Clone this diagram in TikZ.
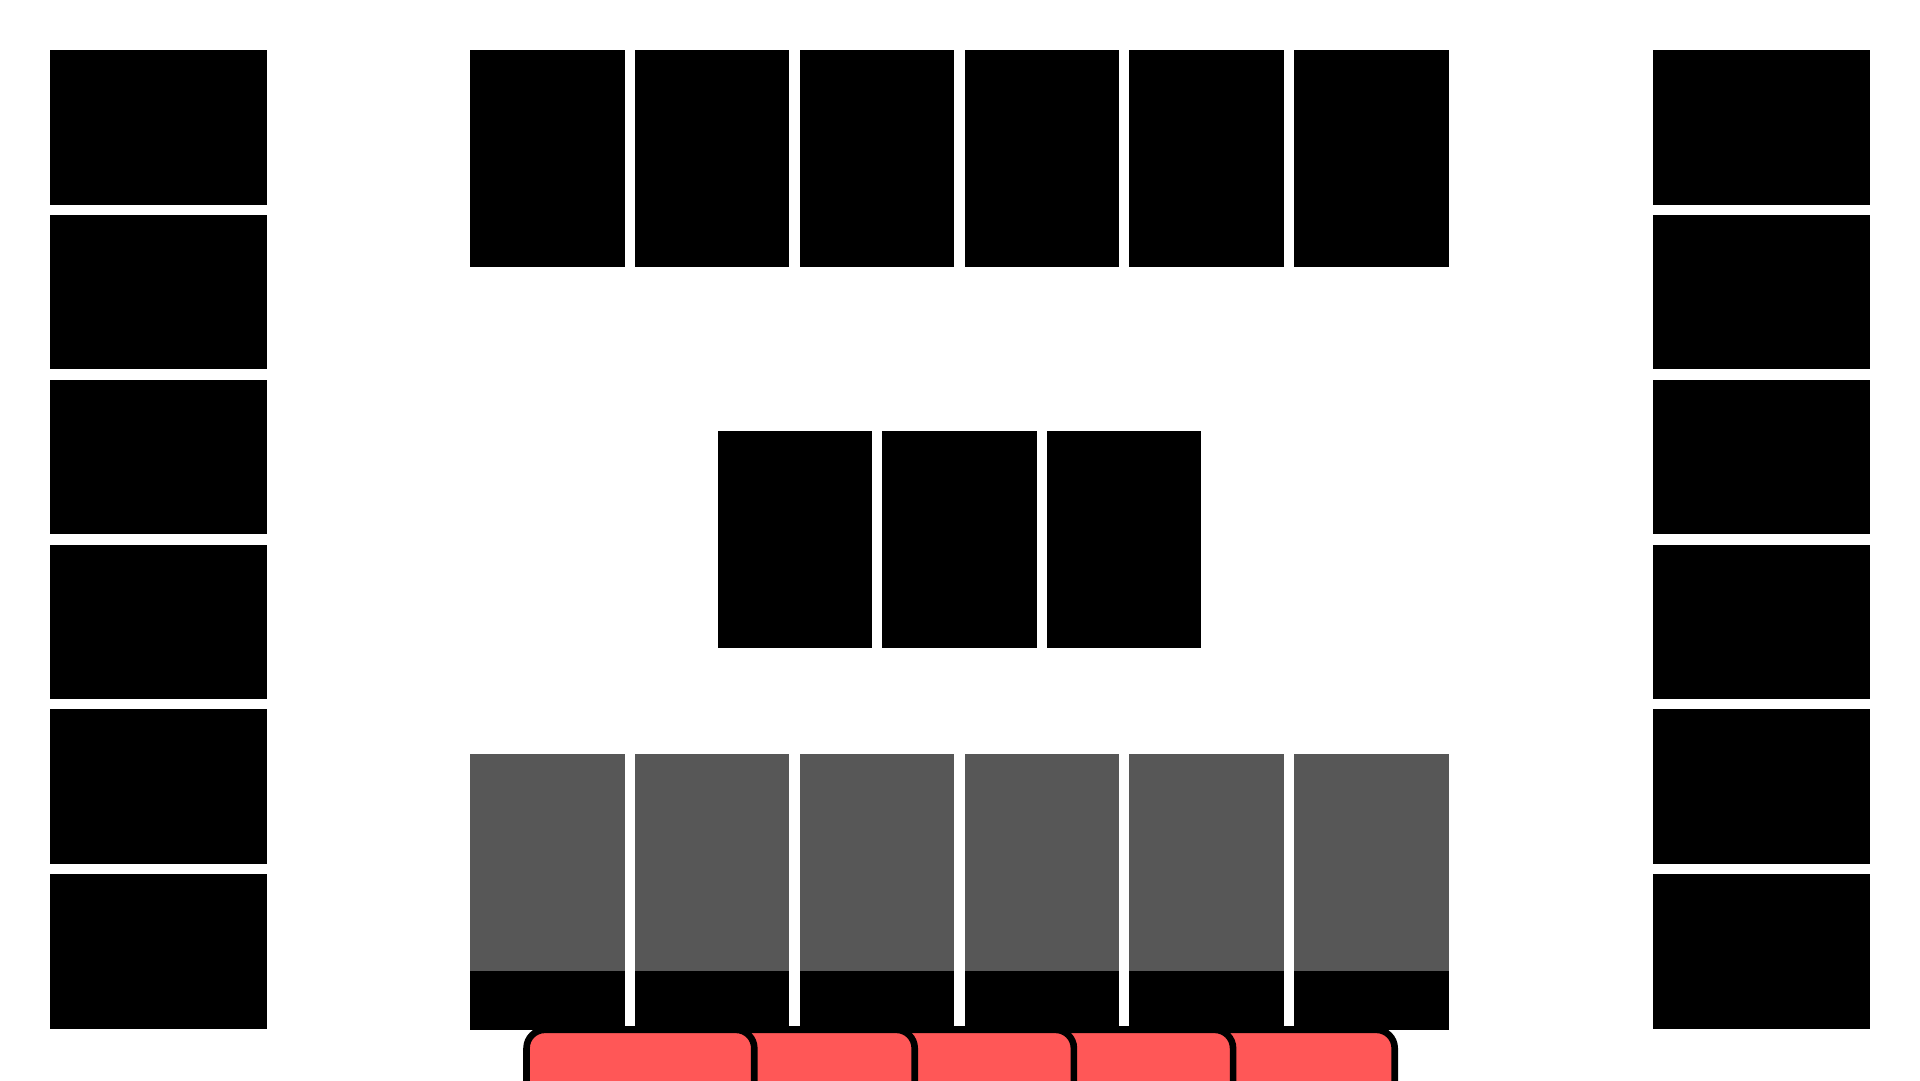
\documentclass[tikz,border=0pt]{standalone}
\usetikzlibrary{positioning}
\definecolor{seatgray}{HTML}{575757}
\definecolor{soldred}{HTML}{FF5757}
\begin{document}
\begin{tikzpicture}[x=1cm,y=-1cm,
  seat/.style={fill=black,inner sep=0pt,outer sep=0pt,minimum width=1.26cm,minimum height=1.77cm},
  sideseat/.style={fill=black,inner sep=0pt,outer sep=0pt,minimum width=1.77cm,minimum height=1.26cm},
  frontseat/.style={seat,fill=seatgray},
  strip/.style={fill=black,inner sep=0pt,outer sep=0pt,minimum width=1.26cm,minimum height=0.45cm},
  booth/.style={draw=black,fill=soldred,line width=0.054cm,rounded corners=0.15cm,inner sep=0pt,minimum height=0.79cm}]
\useasboundingbox (0,0) rectangle (15.68,8.82);
\clip (0,0) rectangle (15.68,8.82);
\node[sideseat] (l1) at (1.295,1.04) {};
\node[sideseat] (l2) at (1.295,2.386) {};
\node[sideseat] (l3) at (1.295,3.732) {};
\node[sideseat] (l4) at (1.295,5.078) {};
\node[sideseat] (l5) at (1.295,6.424) {};
\node[sideseat] (l6) at (1.295,7.77) {};
\node[sideseat] (r1) at (14.385,1.04) {};
\node[sideseat] (r2) at (14.385,2.386) {};
\node[sideseat] (r3) at (14.385,3.732) {};
\node[sideseat] (r4) at (14.385,5.078) {};
\node[sideseat] (r5) at (14.385,6.424) {};
\node[sideseat] (r6) at (14.385,7.77) {};
\node[seat] (t1) at (4.47,1.295) {};
\node[seat] (t2) at (5.816,1.295) {};
\node[seat] (t3) at (7.162,1.295) {};
\node[seat] (t4) at (8.508,1.295) {};
\node[seat] (t5) at (9.854,1.295) {};
\node[seat] (t6) at (11.2,1.295) {};
\node[seat] (m1) at (6.49,4.405) {};
\node[seat] (m2) at (7.836,4.405) {};
\node[seat] (m3) at (9.182,4.405) {};
\node[frontseat] (b1) at (4.47,7.045) {};
\node[frontseat] (b2) at (5.816,7.045) {};
\node[frontseat] (b3) at (7.162,7.045) {};
\node[frontseat] (b4) at (8.508,7.045) {};
\node[frontseat] (b5) at (9.854,7.045) {};
\node[frontseat] (b6) at (11.2,7.045) {};
\node[strip,below=0pt of b1] (s1) {};
\node[strip,below=0pt of b2] (s2) {};
\node[strip,below=0pt of b3] (s3) {};
\node[strip,below=0pt of b4] (s4) {};
\node[strip,below=0pt of b5] (s5) {};
\node[strip,below=0pt of b6] (s6) {};
\fill[black] (s1.south west) rectangle ([yshift=-0.03cm]s6.south east);
\node[booth,minimum width=1.56cm] (p5) at (10.61,8.805) {};
\node[booth,minimum width=1.54cm] (p4) at (9.30,8.805) {};
\node[booth,minimum width=1.54cm] (p3) at (8.00,8.805) {};
\node[booth,minimum width=1.55cm] (p2) at (6.695,8.805) {};
\node[booth,minimum width=1.86cm] (p1) at (5.23,8.805) {};
\end{tikzpicture}
\end{document}
